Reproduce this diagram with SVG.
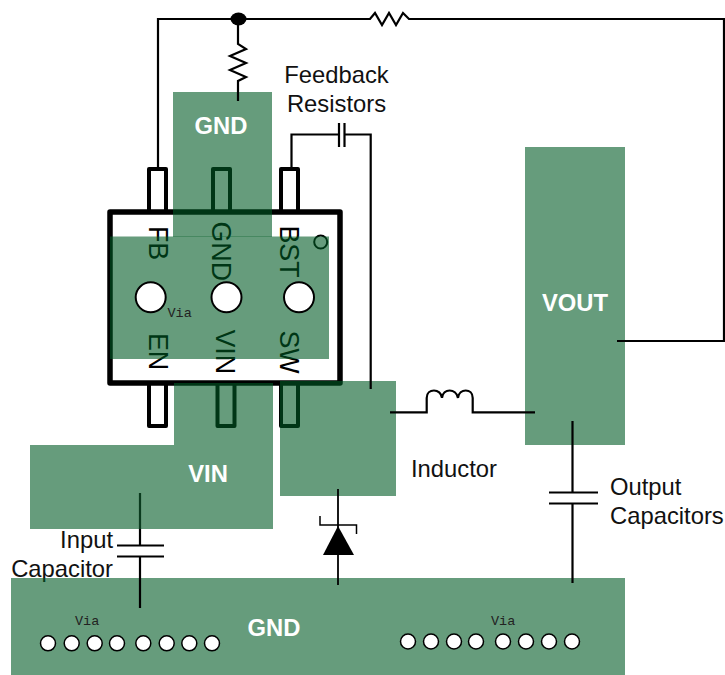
<svg xmlns="http://www.w3.org/2000/svg" width="725" height="675" viewBox="0 0 725 675">
<style>
text{font-family:"Liberation Sans",Arial,sans-serif;font-size:23.800px;fill:#111}
.pad{fill:#005a25;fill-opacity:.6}
.w{fill:none;stroke:#000;stroke-width:2.2;stroke-linejoin:miter}
.pkg{fill:none;stroke:#000;stroke-width:4;stroke-linejoin:round}
.b{font-weight:bold;fill:#fff;text-anchor:middle}
.pin{font-size:26.800px;fill:#000;text-anchor:start}
.via{font-family:"Liberation Mono",monospace;font-size:13.500px;fill:#222}
.v{fill:#fff;stroke:#000;stroke-width:2}
.v2{fill:#fff;stroke:#000;stroke-width:1.5}
</style>
<g id="package">
<rect class="pkg" x="149" y="169" width="17" height="43"/>
<rect class="pkg" x="213" y="169" width="17" height="43"/>
<rect class="pkg" x="281" y="169" width="17" height="43"/>
<rect class="pkg" x="149" y="383" width="17" height="43"/>
<rect class="pkg" x="217.500" y="383" width="17" height="43"/>
<rect class="pkg" x="281" y="383" width="17" height="43"/>
<rect class="pkg" x="110" y="212" width="230" height="171" style="stroke-width:5.500"/>
<circle cx="320.700" cy="242" r="6.500" fill="none" stroke="#000" stroke-width="2"/>
<text class="pin" transform="translate(148.500,226) rotate(90)">FB</text>
<text class="pin" transform="translate(212,221.500) rotate(90)">GND</text>
<text class="pin" transform="translate(280,225.500) rotate(90)">BST</text>
<text class="pin" transform="translate(148.500,333) rotate(90)">EN</text>
<text class="pin" transform="translate(216,329.500) rotate(90)">VIN</text>
<text class="pin" transform="translate(280,330.500) rotate(90)">SW</text>
</g>
<g id="label-capacitor-input">
<text x="113" y="548" text-anchor="end">Input</text>
<text x="113" y="577" text-anchor="end">Capacitor</text>
</g>
<g id="pad-gnd-top"><rect class="pad" x="173" y="92" width="99" height="145"/></g>
<g id="pad-thermal"><rect class="pad" x="110" y="236.500" width="219" height="122.500"/></g>
<g id="pad-vin"><polygon class="pad" points="174,383 273,383 273,529 30,529 30,445 174,445"/></g>
<g id="pad-sw"><rect class="pad" x="280" y="381" width="116" height="115"/></g>
<g id="pad-vout"><rect class="pad" x="525" y="147" width="100" height="298"/></g>
<g id="pad-gnd-bottom"><rect class="pad" x="11" y="578" width="614" height="97"/></g>
<g id="connectors">
<path class="w" d="M158 169V19H370l5-6 7 12 7-12 7 12 7-12 6 6H724V341H617"/>
<path class="w" d="M238 19V44l8 5-16 7 16 7-16 7 16 7-8 4V101"/>
<path class="w" d="M291.500 169V134.500H339M344.500 134.500H370.700V389"/>
<path class="w" d="M339 123V147M344.500 123V147"/>
<path class="w" d="M390 412.300H426.700V398C426.700 388 441 388 442 398C443 388 456 388 458 398C459 388 472.700 388 472.700 398V412.300H535"/>
<path class="w" d="M338 489V585" style="stroke-width:1.800"/>
<path class="w" d="M320 516V525H356.500V534" style="stroke-width:1.500"/>
<polygon points="338,526 323,555 354,555" fill="#000"/>
<path class="w" d="M572.500 421V492.500M572.500 503.500V583"/>
<path class="w" d="M549 492.500H598M549 503.500H598"/>
<path class="w" d="M140 493V529" style="stroke:#0a3a1e"/>
<path class="w" d="M140 529V545.500M140 556.500V608"/>
<path class="w" d="M117 545.500H164M117 556.500H164"/>
<ellipse cx="238.500" cy="19" rx="8" ry="6.500" fill="#000"/>
</g>
<g id="vias-center">
<circle class="v" cx="150.700" cy="297.300" r="15"/>
<circle class="v" cx="226.500" cy="297.300" r="15"/>
<circle class="v" cx="299" cy="297.300" r="15"/>
<text class="via" x="167.500" y="317">Via</text>
</g>
<g id="vias-left">
<circle class="v2" cx="48" cy="643.300" r="7.500"/><circle class="v2" cx="71.700" cy="643.300" r="7.500"/><circle class="v2" cx="94.700" cy="643.300" r="7.500"/><circle class="v2" cx="117" cy="643.300" r="7.500"/><circle class="v2" cx="143.300" cy="643.300" r="7.500"/><circle class="v2" cx="166.700" cy="643.300" r="7.500"/><circle class="v2" cx="189.300" cy="643.300" r="7.500"/><circle class="v2" cx="212" cy="643.300" r="7.500"/>
<text class="via" x="75" y="625">Via</text>
</g>
<g id="vias-right">
<circle class="v2" cx="408" cy="641.500" r="7.500"/><circle class="v2" cx="431" cy="641.500" r="7.500"/><circle class="v2" cx="454" cy="641.500" r="7.500"/><circle class="v2" cx="476" cy="641.500" r="7.500"/><circle class="v2" cx="503" cy="641.500" r="7.500"/><circle class="v2" cx="526" cy="641.500" r="7.500"/><circle class="v2" cx="549" cy="641.500" r="7.500"/><circle class="v2" cx="572" cy="641.500" r="7.500"/>
<text class="via" x="491" y="625">Via</text>
</g>
<g id="labels">
<text class="b" x="221" y="134">GND</text>
<text class="b" x="208" y="482">VIN</text>
<text class="b" x="575" y="311">VOUT</text>
<text class="b" x="274" y="636">GND</text>
<text x="336.500" y="83" text-anchor="middle">Feedback</text>
<text x="336.500" y="112" text-anchor="middle">Resistors</text>
<text x="411" y="477">Inductor</text>
<text x="610" y="495">Output</text>
<text x="610" y="524">Capacitors</text>
</g>
</svg>
